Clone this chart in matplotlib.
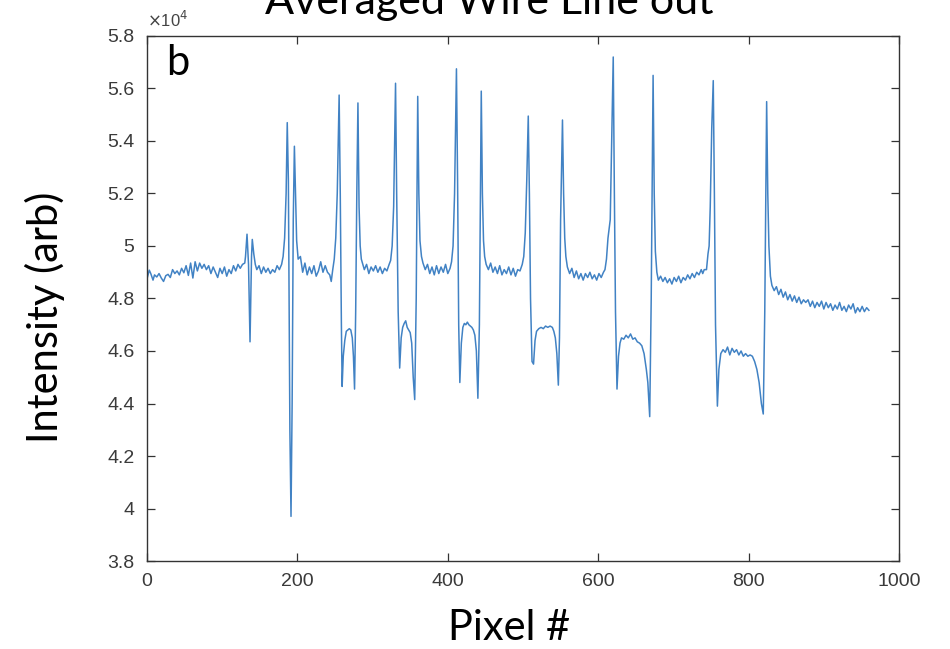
import matplotlib
matplotlib.use("Agg")
import matplotlib.pyplot as plt
from matplotlib.ticker import FuncFormatter

# ---- data: pixel index and averaged intensity (raw counts) ----
pixel = [
    0, 3, 5, 8, 10, 13, 16, 19, 22, 25, 28, 31, 34, 37, 40, 43, 46, 49, 52, 55,
    58, 61, 64, 67, 70, 73, 76, 79, 82, 85, 88, 91, 94, 97, 100, 103, 106, 109, 112, 115,
    118, 121, 124, 127, 130, 131, 133, 135, 137, 139, 140, 142, 144,
    146, 149, 152, 155, 158, 161, 164, 167, 170, 173, 176, 179, 181, 183, 185, 186.5,
    188, 190, 191.5, 193, 194.5, 196, 197.5, 199, 201,
    204, 207, 210, 213, 216, 219, 222, 225, 228, 231, 234, 237, 240, 243, 245, 247, 249, 251, 253, 255.5,
    257, 258.5, 259.5, 261, 263, 265, 267, 269, 271, 273, 274.5, 276, 277.5, 279, 280.5, 282, 283.5, 285, 287,
    289, 292, 295, 298, 301, 304, 307, 310, 313, 316, 319, 322, 324, 326, 328, 330.5,
    332, 334, 336, 338, 340, 342, 344, 346, 348, 350, 352, 354, 356, 358, 360, 361.5, 363, 365, 367,
    370, 373, 376, 379, 382, 385, 388, 391, 394, 397, 400, 403, 405, 407, 409, 411.5,
    413, 414.5, 416, 418, 420, 422, 424, 426, 428, 430, 432, 434, 436, 438, 440, 442, 444.5, 446, 447.5, 449, 451,
    454, 457, 460, 463, 466, 469, 472, 475, 478, 481, 484, 487, 490, 493, 496, 499, 501, 503, 505, 507,
    508.5, 510, 512, 514, 516, 518, 521, 524, 527, 530, 533, 536, 539, 541, 543, 545, 547, 548.5, 550, 552.5,
    554, 555.5, 557, 559,
    562, 565, 568, 571, 574, 577, 580, 583, 586, 589, 592, 595, 598, 601, 604, 607, 609, 611, 613, 616, 618, 620,
    621.5, 623, 625, 627, 629, 631, 634, 637, 640, 643, 646, 649, 652, 655, 658, 661, 664, 666, 668.5, 670.5, 673,
    674.5, 676, 678, 680,
    683, 686, 689, 692, 695, 698, 701, 704, 707, 710, 713, 716, 719, 722, 725, 728, 731, 734, 737, 739, 741,
    744, 746, 747.5, 749, 751, 753,
    754.5, 756, 758.5, 760.5, 763, 766, 769, 772, 775, 778, 781, 784, 787, 790, 793, 796, 799, 802, 805, 808,
    811, 814, 817, 819.5, 821.5, 824, 825.5, 827, 829, 831, 834,
    837, 840, 843, 846, 849, 852, 855, 858, 861, 864, 867, 870, 873, 876, 879, 882, 885, 888, 891, 894,
    897, 900, 903, 906, 909, 912, 915, 918, 921, 924, 927, 930, 933, 936, 939, 942, 945, 948, 951, 954, 957, 960,
]

intensity = [
    48750, 49080, 48950, 48700, 48900, 48820, 48950, 48780, 48650, 48870, 48920, 48800, 49100, 48950, 49050, 48900, 49150, 48980, 49250, 48880,
    49350, 48780, 49400, 49050, 49350, 49150, 49300, 49100, 49250, 48950, 49200, 49000, 48800, 49150, 48950, 49200, 48850, 49100, 48950, 49250,
    49050, 49300, 49150, 49300, 49350, 49600, 50450, 49300, 46350, 49600, 50250, 49700, 49300,
    49100, 49250, 48950, 49200, 49000, 49150, 48950, 49100, 49000, 49250, 49100, 49300, 49600, 50300, 52000, 54700,
    52500, 43000, 39700, 44000, 51000, 53800, 52000, 50200, 49500,
    49600, 49000, 49350, 48900, 49200, 48950, 49250, 48850, 49050, 49400, 49000, 49250, 49000, 48900, 48650, 49100, 49500, 50300, 52000, 55750,
    52000, 47000, 44650, 45800, 46400, 46750, 46800, 46850, 46800, 46500, 45800, 44550, 47500, 52000, 55450, 51500, 50000, 49500, 49300,
    49100, 49300, 48950, 49200, 49050, 49250, 49000, 49200, 48950, 49150, 49050, 49300, 49450, 50000, 51500, 56200,
    52000, 47500, 45350, 46500, 46900, 47050, 47150, 46900, 46800, 46700, 46300, 45000, 44150, 48000, 55700, 52000, 50200, 49600, 49350,
    49100, 49300, 48950, 49200, 48900, 49250, 48950, 49200, 49000, 49300, 48950, 49150, 49400, 50000, 52000, 56750,
    52500, 47000, 44800, 46300, 46900, 47050, 47000, 47100, 47000, 46950, 46900, 46800, 46600, 46000, 44200, 47000, 55900, 52000, 50200, 49600, 49300,
    49100, 49350, 49000, 49200, 48950, 49250, 48900, 49100, 48950, 49200, 48900, 49150, 48850, 49100, 49050, 49300, 49600, 50500, 52500, 54950,
    52000, 48000, 45600, 45500, 46400, 46750, 46850, 46900, 46850, 46950, 46900, 46950, 46900, 46750, 46500, 45900, 44700, 46500, 51000, 54800,
    52000, 50300, 49600, 49200,
    48950, 49150, 48800, 49050, 48750, 48950, 48700, 48950, 48800, 49000, 48750, 48900, 48700, 48950, 48800, 49000, 49100, 49500, 50300, 51000, 54000, 57200,
    52000, 47500, 44550, 45800, 46300, 46500, 46450, 46600, 46500, 46650, 46450, 46500, 46350, 46300, 46200, 45900, 45300, 44800, 43500, 48000, 56500,
    52000, 49800, 49000, 48700,
    48850, 48650, 48800, 48600, 48750, 48550, 48800, 48650, 48850, 48600, 48800, 48700, 48900, 48750, 48950, 48800, 49000, 48900, 49100, 48950, 49100,
    49100, 49700, 50000, 51500, 54500, 56300,
    52000, 47000, 43900, 45300, 45900, 46050, 45950, 46150, 45850, 46100, 45950, 46050, 45850, 46000, 45800, 45900, 45800, 45850, 45800, 45600,
    45300, 44800, 44000, 43600, 47500, 55500, 52000, 50000, 48850, 48500, 48300,
    48450, 48150, 48350, 48050, 48250, 47950, 48150, 47900, 48100, 47850, 48050, 47800, 47950, 47850, 47950, 47700, 47900, 47650, 47850, 47700,
    47900, 47600, 47850, 47650, 47800, 47550, 47750, 47600, 47850, 47550, 47700, 47500, 47750, 47600, 47800, 47450, 47650, 47500, 47700, 47500, 47650, 47550,
]

x_ticks = [0, 200, 400, 600, 800, 1000]
y_ticks = [38000, 40000, 42000, 44000, 46000, 48000, 50000, 52000, 54000, 56000, 58000]

title_text = "Averaged Wire Line out"
x_label = "Pixel #"
y_label = "Intensity (arb)"
panel_label = "b"

W, H = 950, 649
fig = plt.figure(figsize=(W / 100, H / 100), dpi=100)
fig.patch.set_facecolor("white")

ax = fig.add_axes([147 / W, 1 - 561 / H, (899 - 147) / W, (561 - 36) / H])
ax.plot(pixel, intensity, color="#4182c4", linewidth=1.1)

ax.set_xlim(0, 1000)
ax.set_ylim(38000, 58000)
ax.set_xticks(x_ticks)
ax.set_yticks(y_ticks)
ax.yaxis.set_major_formatter(FuncFormatter(lambda v, p: f"{v / 1e4:g}"))

axis_col = "#333333"
for s in ax.spines.values():
    s.set_color(axis_col)
    s.set_linewidth(1.0)
ax.tick_params(direction="in", length=6, width=0.9, color=axis_col,
               top=True, right=True, labelsize=14, labelcolor="#3a3a3a", pad=9)
for lab in ax.get_xticklabels() + ax.get_yticklabels():
    lab.set_family("Liberation Sans")

# multiplier
ax.text(0.0, 1.012, r"$\times$10$^{4}$", transform=ax.transAxes, ha="left", va="bottom",
        fontsize=12, color="#444444", family="Liberation Sans")

# panel label
ax.text(0.025, 0.985, panel_label, transform=ax.transAxes, ha="left", va="top",
        fontsize=30, family="Lato", color="black")

# labels / title as figure text
fig.text(489 / W, 1 - 14 / H, title_text, ha="center", va="baseline",
         fontsize=31, family="Lato", color="black")
fig.text(509 / W, 1 - 640 / H, x_label, ha="center", va="baseline",
         fontsize=30, family="Lato", color="black")
fig.text(45 / W, 1 - 317 / H, y_label, ha="center", va="center", rotation=90,
         fontsize=30, family="Lato", color="black")

fig.savefig("out.png", dpi=100, facecolor="white")
